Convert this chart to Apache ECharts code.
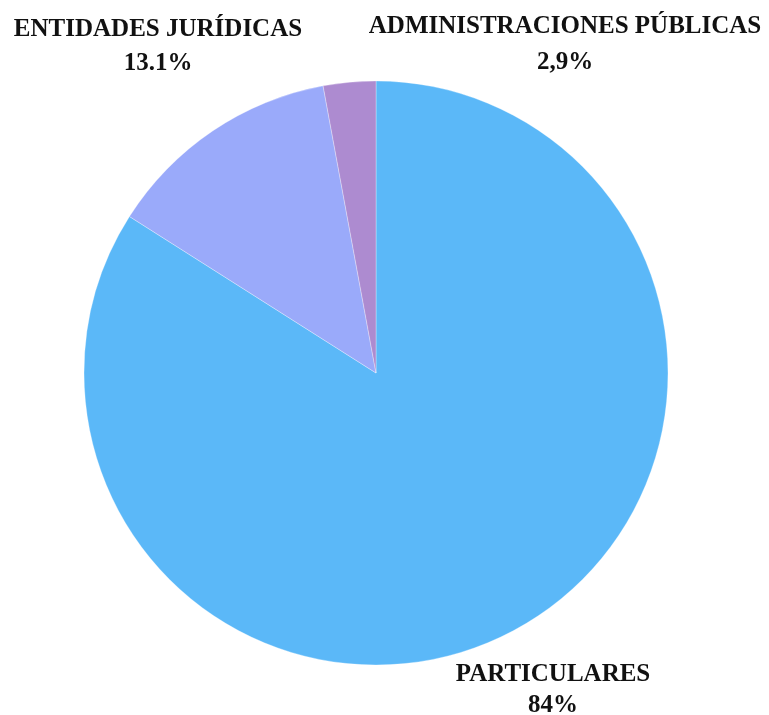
<!DOCTYPE html>
<html><head><meta charset="utf-8">
<script src="https://cdn.jsdelivr.net/npm/echarts@6/dist/echarts.min.js"></script>
<style>html,body{margin:0;padding:0;background:#fff}#c{width:769px;height:715px}</style>
</head><body><div id="c"></div>
<script>
var categories = ['PARTICULARES', 'ENTIDADES JURÍDICAS', 'ADMINISTRACIONES PÚBLICAS'];
var values = [84, 13.1, 2.9];
var valueLabels = ['84%', '13.1%', '2,9%'];
var colors = ['#5BB8F8', '#9AAAFA', '#AD8BD0'];

var labelPos = [[553, 690], [158, 47], [565, 45]];
var lineHeights = [31, 34, 36];
var chart = echarts.init(document.getElementById('c'));
chart.setOption({
  animation: false,
  series: [{
    type: 'pie',
    center: [376, 373],
    radius: 292,
    startAngle: 90,
    clockwise: true,
    data: categories.map(function (c, i) {
      return { name: c, value: values[i], itemStyle: { color: colors[i] },
               label: { lineHeight: lineHeights[i] } };
    }),
    itemStyle: { borderColor: 'rgba(255,255,255,0.6)', borderWidth: 0.5 },
    label: {
      show: true,
      position: 'outside',
      formatter: function (p) { return p.name + '\n' + valueLabels[p.dataIndex]; },
      fontFamily: 'Liberation Serif, Times New Roman, serif',
      fontWeight: 'bold',
      fontSize: 25,
      color: '#111',
      align: 'center',
      overflow: 'none',
      width: 500
    },
    labelLine: { show: false },
    labelLayout: function (params) {
      var p = labelPos[params.dataIndex];
      return { x: p[0], y: p[1], align: 'center', verticalAlign: 'middle' };
    }
  }]
});
</script></body></html>
